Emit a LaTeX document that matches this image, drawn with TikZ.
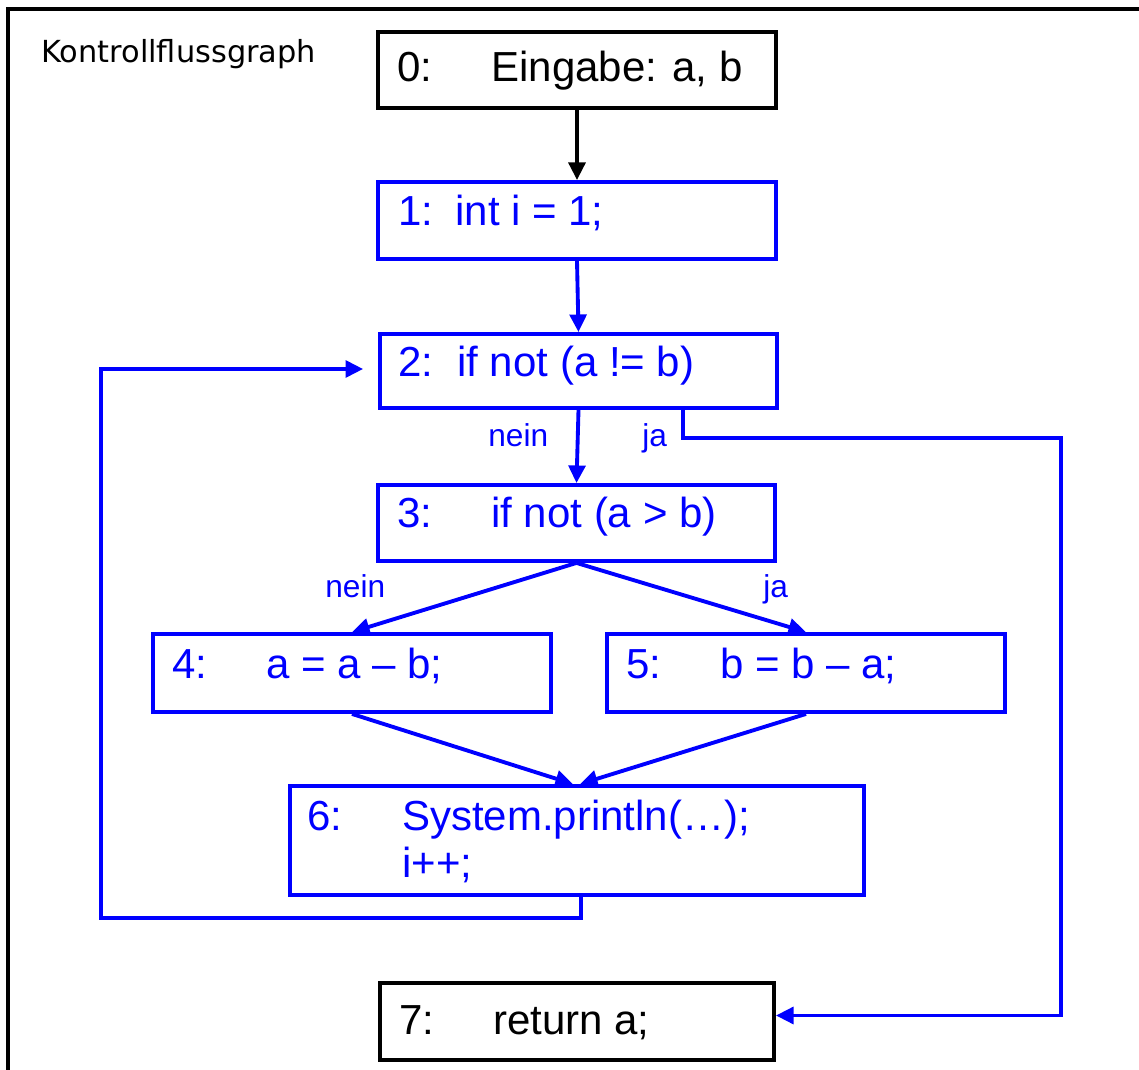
\documentclass[tikz,border=0pt]{standalone}
\usepackage{fontspec}
\setmainfont{Liberation Sans}
\newfontfamily\comicfont{DejaVu Sans}
\usetikzlibrary{arrows.meta,fit,calc}
\definecolor{pblue}{RGB}{0,0,255}
\begin{document}
\begin{tikzpicture}[x=0.02cm,y=-0.02cm,
  box/.style={draw=pblue,line width=2.2pt,inner sep=0pt},
  blackbox/.style={draw=black,line width=2.2pt,inner sep=0pt},
  txt/.style={anchor=base west,inner sep=0pt,text=pblue,font=\fontsize{23.9}{26.6}\selectfont},
  lbl/.style={anchor=base west,inner sep=0pt,text=pblue,font=\fontsize{18}{20}\selectfont},
  arr/.style={draw=pblue,line width=2.2pt,-{Triangle[length=10pt,width=9.5pt]}},
  barr/.style={draw=black,line width=2.2pt,-{Triangle[length=10pt,width=9.5pt]}}]
\useasboundingbox (0,0) rectangle (1139,1070);
% frame
\draw[line width=2pt] (8,1072) -- (8,9) -- (1141,9);
\node[anchor=base west,inner sep=0pt,font=\comicfont\fontsize{17.3}{20}\selectfont] (title) at (41,63) {Kontrollflussgraph};
% boxes
\node[blackbox,fit={(378,32)(776,108)}] (n0) {};
\node[box,fit={(378,182)(776,259)}] (n1) {};
\node[box,fit={(380,334)(777,408)}] (n2) {};
\node[box,fit={(378,485)(775,561)}] (n3) {};
\node[box,fit={(153,634)(551,712)}] (n4) {};
\node[box,fit={(607,634)(1005,712)}] (n5) {};
\node[box,fit={(290,786)(864,895)}] (n6) {};
\node[blackbox,fit={(380,983)(774,1060)}] (n7) {};
% texts
\node[txt,text=black] (t0) at (397,82) {\makebox[1.88cm][l]{0:}Eingabe: a, b};
\node[txt] (t1) at (398,226) {\makebox[1.14cm][l]{1:}int i = 1;};
\node[txt] (t2) at (398,377) {\makebox[1.18cm][l]{2:}if not (a != b)};
\node[txt] (t3) at (397,528) {\makebox[1.88cm][l]{3:}if not (a > b)};
\node[txt] (t4) at (172,678) {\makebox[1.88cm][l]{4:}a = a – b;};
\node[txt] (t5) at (626,678) {\makebox[1.88cm][l]{5:}b = b – a;};
\node[txt] (t6) at (307,830) {\makebox[1.9cm][l]{6:}System.println(…);};
\node[txt] (t6b) at (402,877) {i++;};
\node[txt,text=black] (t7) at (399,1034) {\makebox[1.88cm][l]{7:}return a;};
% labels
\node[lbl] (l1) at (488,447) {nein};
\node[lbl] (l2) at (642,447) {ja};
\node[lbl] (l3) at (325,598) {nein};
\node[lbl] (l4) at (763,598) {ja};
% connectors
\draw[barr] (n0.south) -- (n1.north);
\draw[arr] (n1.south) -- (n2.north);
\draw[arr] (n2.south) -- (n3.north);
\coordinate (ja) at (683,438);
\coordinate (jr) at (1061,438);
\draw[arr] (n2.south -| ja) -- (ja) -- (jr) |- ($(n7.east)+(0,-6)$);
\draw[arr] (n3.south) -- (n4.north);
\draw[arr] (n3.south) -- (n5.north);
\draw[arr] (n4.south) -- ($(n6.north)+(-4,0)$);
\draw[arr] (n5.south) -- ($(n6.north)+(3,0)$);
\coordinate (lb) at (101,918);
\coordinate (ls) at (581,918);
\draw[arr,shorten >=8.5pt] (n6.south -| ls) -- (ls) -- (lb) |- ($(n2.west)+(0,-2)$);
\end{tikzpicture}
\end{document}
